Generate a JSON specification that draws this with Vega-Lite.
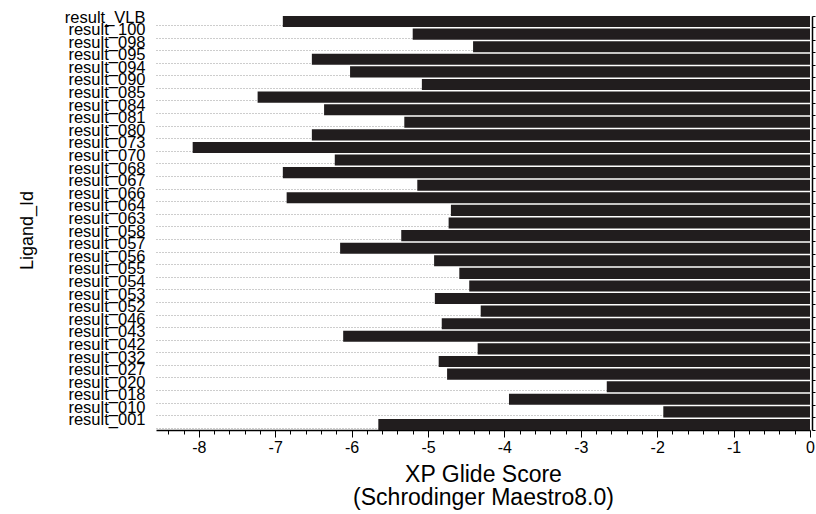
{
  "$schema": "https://vega.github.io/schema/vega-lite/v6.json",
  "width": 654,
  "height": 414,
  "autosize": {"type": "none"},
  "padding": {"left": 156, "top": 16, "right": 6, "bottom": 84},
  "background": "white",
  "config": {"view": {"stroke": null}, "font": "Liberation Sans"},
  "data": {
    "values": [
      {"ligand": "result_VLB", "score": -6.90},
      {"ligand": "result_100", "score": -5.20},
      {"ligand": "result_098", "score": -4.41},
      {"ligand": "result_095", "score": -6.52},
      {"ligand": "result_094", "score": -6.02},
      {"ligand": "result_090", "score": -5.08},
      {"ligand": "result_085", "score": -7.23},
      {"ligand": "result_084", "score": -6.36},
      {"ligand": "result_081", "score": -5.31},
      {"ligand": "result_080", "score": -6.52},
      {"ligand": "result_073", "score": -8.08},
      {"ligand": "result_070", "score": -6.22},
      {"ligand": "result_068", "score": -6.90},
      {"ligand": "result_067", "score": -5.14},
      {"ligand": "result_066", "score": -6.85},
      {"ligand": "result_064", "score": -4.70},
      {"ligand": "result_063", "score": -4.73},
      {"ligand": "result_058", "score": -5.35},
      {"ligand": "result_057", "score": -6.15},
      {"ligand": "result_056", "score": -4.92},
      {"ligand": "result_055", "score": -4.59},
      {"ligand": "result_054", "score": -4.46},
      {"ligand": "result_053", "score": -4.91},
      {"ligand": "result_052", "score": -4.31},
      {"ligand": "result_046", "score": -4.82},
      {"ligand": "result_043", "score": -6.11},
      {"ligand": "result_042", "score": -4.35},
      {"ligand": "result_032", "score": -4.86},
      {"ligand": "result_027", "score": -4.75},
      {"ligand": "result_020", "score": -2.66},
      {"ligand": "result_018", "score": -3.94},
      {"ligand": "result_010", "score": -1.92},
      {"ligand": "result_001", "score": -5.65}
    ]
  },
  "layer": [
    {
      "mark": {"type": "bar", "color": "#211d1e"},
      "encoding": {
        "y": {
          "field": "ligand", "type": "nominal", "sort": null,
          "scale": {"paddingInner": 0.12, "paddingOuter": 0},
          "axis": {
            "orient": "left", "title": "Ligand_Id", "ticks": false, "tickSize": 0, "domain": false, "grid": false,
            "labelFontSize": 16.5, "labelPadding": 11, "labelColor": "black", "labelLimit": 0, "labelOffset": -4,
            "titleFontSize": 18, "titleFontWeight": "normal", "titleColor": "black",
            "titleX": -129, "titleY": 214, "titleAngle": -90, "titleBaseline": "middle", "titleAlign": "center"
          }
        },
        "x": {
          "field": "score", "type": "quantitative",
          "scale": {"domain": [-8.56, 0], "nice": false},
          "axis": {
            "orient": "bottom", "values": [-8, -7, -6, -5, -4, -3, -2, -1, 0],
            "labelExpr": "'' + datum.value", "labelFlush": false,
            "tickSize": 7, "tickColor": "black", "domainColor": "black", "domainWidth": 1.5,
            "labelFontSize": 16, "labelColor": "black", "labelPadding": 2, "grid": false,
            "title": ["XP Glide Score", "(Schrodinger Maestro8.0)"],
            "titleFontSize": 23, "titleFontWeight": "normal", "titleColor": "black",
            "titlePadding": 8, "titleLineHeight": 23
          }
        }
      }
    },
    {
      "mark": {"type": "bar", "opacity": 0},
      "encoding": {
        "y": {
          "field": "ligand", "type": "nominal", "sort": null,
          "axis": {
            "orient": "right", "title": null, "labels": false, "tickBand": "extent", "tickSize": 3,
            "tickColor": "black", "domainColor": "black", "domainWidth": 1.5, "offset": 2, "grid": false, "zindex": 1
          }
        },
        "x": {
          "field": "score", "type": "quantitative",
          "axis": {
            "orient": "bottom", "title": null, "labels": false, "domain": false, "grid": false,
            "tickSize": 4, "tickColor": "black",
            "values": [-8.4, -8.2, -7.8, -7.6, -7.4, -7.2, -6.8, -6.6, -6.4, -6.2, -5.8, -5.6, -5.4, -5.2, -4.8, -4.6, -4.4, -4.2, -3.8, -3.6, -3.4, -3.2, -2.8, -2.6, -2.4, -2.2, -1.8, -1.6, -1.4, -1.2, -0.8, -0.6, -0.4, -0.2]
          }
        }
      }
    },
    {
      "mark": {"type": "bar", "opacity": 0},
      "encoding": {
        "y": {
          "field": "ligand", "type": "nominal", "sort": null,
          "axis": {
            "orient": "left", "title": null, "labels": false, "ticks": false, "domain": false,
            "grid": true, "bandPosition": 0.85, "gridDash": [1, 2], "gridColor": "#9a9a9a", "gridWidth": 1
          }
        },
        "x": {"field": "score", "type": "quantitative", "axis": null}
      }
    }
  ],
  "resolve": {"axis": {"x": "independent", "y": "independent"}}
}
